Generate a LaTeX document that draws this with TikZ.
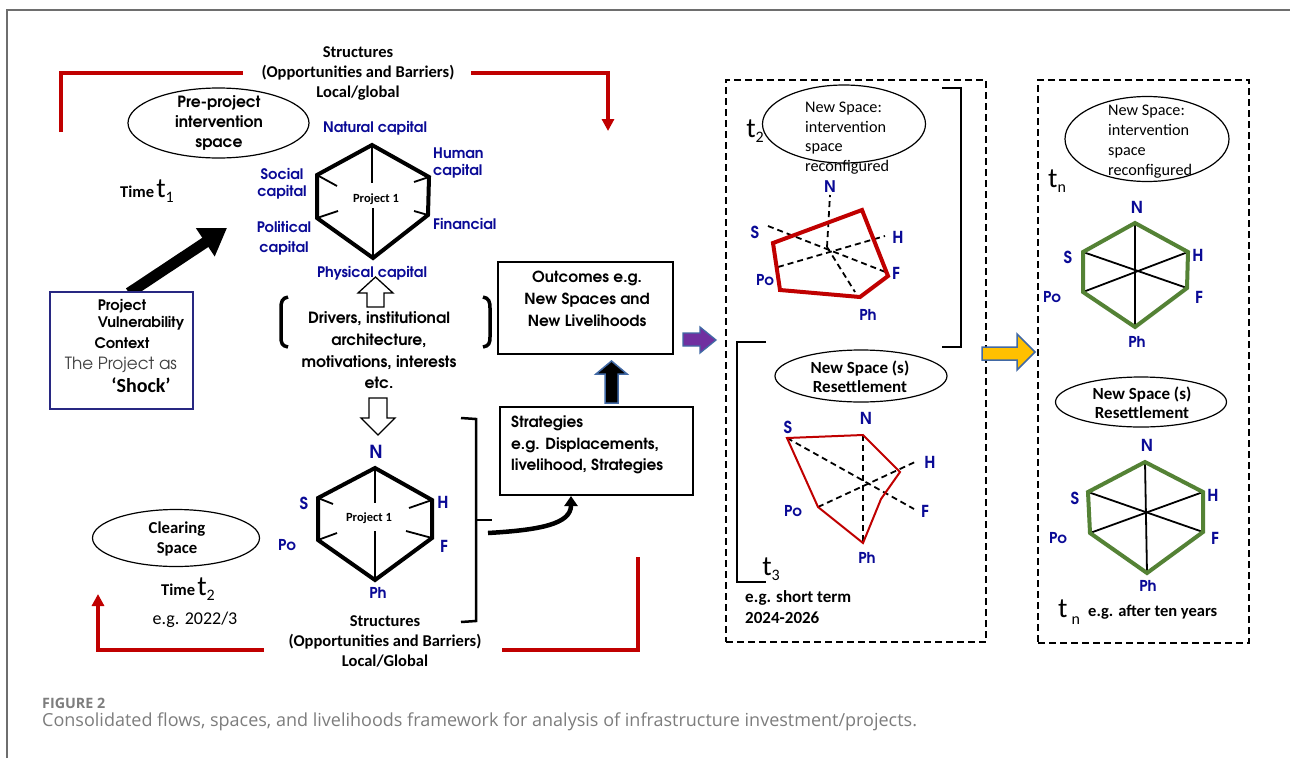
\documentclass[tikz,border=0pt]{standalone}
\usepackage{fontspec}
\setmainfont{Carlito}
\newfontfamily\cg{texgyreadventor}[Extension=.otf,UprightFont=*-regular,BoldFont=*-bold]
\newfontfamily\capfont{Open Sans}
\usetikzlibrary{arrows.meta,shapes.geometric,calc}
\definecolor{dred}{RGB}{192,0,0}
\definecolor{lblue}{RGB}{10,10,150}
\definecolor{grn}{RGB}{84,130,53}
\definecolor{frmgrey}{RGB}{110,110,110}
\definecolor{pblue}{RGB}{40,40,130}
\definecolor{sblue}{RGB}{65,105,165}
\definecolor{purp}{RGB}{112,48,160}
\definecolor{gold}{RGB}{255,192,0}
\definecolor{capgrey}{RGB}{125,125,125}
\newcommand\fs[2]{\fontsize{#1}{#2}\selectfont}
\newcommand\tsb[1]{{\fs{28}{28}t}\raisebox{-5pt}{\fs{16}{16}#1}}
\tikzset{
  lbl/.style={text=lblue, font=\cg\bfseries\fs{14.5}{17}, inner sep=0},
  txt/.style={inner sep=0, align=center},
  redl/.style={draw=dred, line width=4.5pt},
  hexl/.style={line width=4pt, line join=miter},
  spoke/.style={line width=1.8pt},
  dsh/.style={dash pattern=on 6pt off 4pt, line width=1.8pt},
  ell/.style={draw, ellipse, inner sep=0, line width=1.2pt},
  dbox/.style={draw, line width=2.5pt, dash pattern=on 7pt off 4pt, inner sep=0},
  sbox/.style={draw, line width=1.3pt, inner sep=0},
  big/.style={lbl, font=\cg\bfseries\fs{16.5}{18}},
  sml/.style={lbl, font=\cg\bfseries\fs{15}{17}},
}
\begin{document}
\begin{tikzpicture}[x=1pt,y=-1pt]
\useasboundingbox (0,0) rectangle (1290,758);
\fill[white] (0,0) rectangle (1290,758);
% frame
\draw[frmgrey, line width=1.2pt] (7,758) -- (7,10) -- (1290,10);

% ---------- top structures + red bracket
\node[txt, font=\bfseries\fs{16.5}{20}] (stt) at (358,73) {Structures\\(Opportunities and Barriers)\\Local/global};
\coordinate (rtl) at (61,132);
\coordinate (rtm) at (243,73);
\coordinate (rtr) at (471,73);
\coordinate (rte) at (608,131);
\draw[redl] (rtl) |- (rtm);
\draw[redl, -{Triangle[length=12pt,width=12pt]}] (rtr) -| (rte);

% pre-project ellipse
\node[ell, minimum width=181pt, minimum height=70pt] (pre) at (218.5,123) {};
\node[txt, font=\cg\bfseries\fs{15.5}{20}] (pret) at (219,123) {Pre-project\\intervention\\space};

\node[inner sep=0] (tim1) at (147,191) {{\bfseries\fs{16.5}{16}Time} \tsb{1}};

% hexagon 1
\draw[spoke] (372,145) -- (372,183);
\draw[spoke] (373,258) -- (373,208);
\draw[spoke] (317,175) -- (337,186);
\draw[spoke] (429,177) -- (414,182);
\draw[spoke] (317,218) -- (338,211);
\draw[spoke] (428,215) -- (414,211);
\draw[hexl] (372,145) -- (429,177) -- (428,215) -- (373,258) -- (317,218) -- (317,175) -- cycle;
\node[font=\bfseries\fs{12.5}{14}, inner sep=0] (p1a) at (376,199) {Project 1};
\node[lbl] (lnat) at (375,128) {Natural capital};
\node[lbl, anchor=west, align=left] (lhum) at (433,163) {Human\\capital};
\node[lbl, align=center] (lsoc) at (282,184) {Social\\capital};
\node[lbl, align=center, font=\cg\bfseries\fs{14.5}{20}] (lpol) at (284,238) {Political\\capital};
\node[lbl, anchor=west] (lfin) at (433,224) {Financial};
\node[lbl] (lphy) at (372,273) {Physical capital};

% project box + arrow
\coordinate (a1s) at (129,293);
\coordinate (a1e) at (227,228);
\draw[line width=11pt, -{Triangle[length=26pt,width=32pt]}] (a1s) -- (a1e);
\node[sbox, draw=pblue, fill=white, minimum width=143pt, minimum height=117pt] (pbox) at (121.5,350.5) {};
\node[font=\cg\bfseries\fs{14.5}{16}, inner sep=0] (pb1) at (122,306) {Project};
\node[font=\cg\bfseries\fs{14.5}{16}, inner sep=0] (pb2) at (141,323) {Vulnerability};
\node[font=\cg\bfseries\fs{14.5}{16}, inner sep=0] (pb3) at (122,343) {Context};
\node[font=\cg\fs{16.8}{18}, text=black!75, inner sep=0] (pb4) at (121,365) {The Project as};
\node[font=\bfseries\fs{20}{22}, inner sep=0] (pb5) at (141,385) {‘Shock’};

% drivers
\draw[line width=1.3pt, fill=white] (367,307) -- (367,293) -- (358,293) -- (375.5,277) -- (393,293) -- (384,293) -- (384,307) -- cycle;
\node[txt, font=\cg\bfseries\fs{15.5}{21.7}] (driv) at (379,350.5) {Drivers, institutional\\architecture,\\motivations, interests\\etc.};
\draw[line width=3.5pt] (288,297) .. controls (282,298) and (281,302) .. (281,308) -- (281,337) .. controls (281,343) and (282,346) .. (288,347);
\draw[line width=3.5pt] (483,297) .. controls (489,298) and (490,302) .. (490,308) -- (490,337) .. controls (490,343) and (489,346) .. (483,347);
\draw[line width=1.3pt, fill=white] (369,398) -- (387,398) -- (387,418) -- (395,418) -- (378,435) -- (361,418) -- (369,418) -- cycle;

% hexagon 2
\draw[spoke] (375,468) -- (375,503);
\draw[spoke] (375,580) -- (375,531);
\draw[spoke] (318,498) -- (333,504);
\draw[spoke] (432,500) -- (409,508);
\draw[spoke] (318,540) -- (337,533);
\draw[spoke] (432,538) -- (406,531);
\draw[hexl] (375,468) -- (432,500) -- (432,538) -- (375,580) -- (318,540) -- (318,498) -- cycle;
\node[font=\bfseries\fs{12.5}{14}, inner sep=0] (p1b) at (369,518) {Project 1};
\node[lbl, font=\cg\bfseries\fs{18}{18}] (n2) at (376,452) {N};
\node[big] (s2) at (304,503) {S};
\node[big] (h2) at (443,502) {H};
\node[sml] (po2) at (287,545) {Po};
\node[big] (f2) at (444,546) {F};
\node[sml] (ph2) at (378,593) {Ph};

% clearing space
\node[ell, minimum width=167pt, minimum height=57pt] (clr) at (176,538) {};
\node[txt, font=\bfseries\fs{16.7}{20}] (clrt) at (177,539) {Clearing\\Space};
\node[inner sep=0] (tim2) at (188,589) {{\bfseries\fs{16.5}{16}Time} \tsb{2}};
\node[font=\fs{18}{20}, inner sep=0] (eg1) at (195,620) {e.g. 2022/3};

% bottom structures + red bracket
\node[txt, font=\bfseries\fs{16.5}{20}] (stb) at (385,641) {Structures\\(Opportunities and Barriers)\\Local/Global};
\coordinate (rbl) at (264,650);
\coordinate (rble) at (98,594);
\coordinate (rbr) at (502,650);
\coordinate (rbre) at (638,557);
\draw[redl, -{Triangle[length=12pt,width=12pt]}] (rbl) -| (rble);
\draw[redl] (rbr) -| (rbre);

% big brace
\draw[line width=2.5pt] (461,418) -- (476,419) -- (476,621) -- (461,622);
\coordinate (brt) at (492,520);
\draw[line width=2.5pt] (476,520) -- (brt);

% outcomes / strategies
\node[sbox, minimum width=175pt, minimum height=92pt] (outc) at (585.5,308) {};
\node[txt, font=\cg\bfseries\fs{15.3}{22}] (outt) at (587,299) {Outcomes e.g.\\New Spaces and\\New Livelihoods};
\node[sbox, minimum width=193pt, minimum height=88pt] (strat) at (596.5,451) {};
\node[font=\cg\bfseries\fs{15.3}{21.5}, anchor=west, align=left, inner sep=0] (strt) at (511,445) {Strategies\\e.g. Displacements,\\livelihood, Strategies};
\draw[draw=sblue, line width=1.5pt, fill=black] (605,403) -- (605,374) -- (596,374) -- (611.5,361) -- (627,374) -- (618,374) -- (618,403) -- cycle;
\coordinate (cas) at (488,533);
\coordinate (cae) at (571,496);
\draw[line width=4.5pt, -{Triangle[length=10pt,width=13pt]}] (cas) .. controls (540,530) and (571,524) .. (cae);
\draw[draw=sblue, line width=1.3pt, fill=purp] (683,333) -- (700,333) -- (700,327) -- (716,340) -- (700,353) -- (700,346) -- (683,346) -- cycle;

% ---------- box 1
\node[dbox, minimum width=260pt, minimum height=562pt] (box1) at (856,361) {};
\node[ell, minimum width=163pt, minimum height=78pt] (e1) at (844,124) {};
\node[font=\fs{16.2}{19.7}, anchor=west, align=left, inner sep=0] (e1t) at (805,138) {New Space:\\intervention\\space\\reconfigured};
\node[inner sep=0] (t2b) at (755,131) {\tsb{2}};
\draw[line width=2.5pt] (942,88) -- (961,88) -- (961,347) -- (942,347);
\draw[dsh] (827,247) -- (830,195);
\draw[dsh] (768,226) -- (888,273);
\draw[dsh] (778,267) -- (885,236);
\draw[dsh] (827,247) -- (855,292);
\draw[dred, line width=4pt, line join=miter] (773,243) -- (862,210) -- (888,276) -- (860,297) -- (780,290) -- cycle;
\node[lbl, font=\cg\bfseries\fs{16}{18}] (n3) at (830,187) {N};
\node[big] (s3) at (755,232) {S};
\node[big] (h3) at (898,237) {H};
\node[sml] (po3) at (765,280) {Po};
\node[big] (f3) at (896,273) {F};
\node[sml] (ph3) at (868,315) {Ph};
\draw[line width=2.5pt] (766,342) -- (737,342) -- (737,582) -- (766,582);
\node[ell, minimum width=172pt, minimum height=52pt] (e2) at (861,376) {};
\node[txt, font=\bfseries\fs{17}{19}] (e2t) at (860,376.5) {New Space (s)\\Resettlement};
\draw[dsh] (787,438) -- (914,509);
\draw[dsh] (818,507) -- (915,462);
\draw[dsh] (863,435) -- (863,543);
\draw[dred, line width=2pt, line join=miter] (787,438) -- (863,435) -- (900,472) -- (881,499) -- (863,543) -- (818,507) -- cycle;
\node[big] (n4) at (866,418) {N};
\node[big] (s4) at (788,427) {S};
\node[big] (h4) at (930,462) {H};
\node[sml] (po4) at (793,511) {Po};
\node[big] (f4) at (925,511) {F};
\node[sml] (ph4) at (867,558) {Ph};
\node[inner sep=0] (t3b) at (771,569) {\tsb{3}};
\node[font=\bfseries\fs{17}{21}, anchor=west, align=left, inner sep=0] (egs) at (745,607) {e.g. short term\\2024-2026};

% yellow arrow
\draw[draw=sblue, line width=1.5pt, fill=gold] (982,347) -- (1017,347) -- (1017,334) -- (1035,352) -- (1017,370) -- (1017,360) -- (982,360) -- cycle;

% ---------- box 2
\node[dbox, minimum width=211pt, minimum height=563pt] (box2) at (1143.5,361.5) {};
\node[ell, minimum width=164pt, minimum height=85pt] (e3) at (1147,139) {};
\node[font=\fs{16.2}{20}, anchor=west, align=left, inner sep=0] (e3t) at (1108,142) {New Space:\\intervention\\space\\reconfigured};
\node[inner sep=0] (tnb) at (1057,181) {\tsb{n}};
\draw[spoke] (1135,223) -- (1135,327);
\draw[spoke] (1083,252) -- (1187,288);
\draw[spoke] (1188,252) -- (1083,292);
\draw[grn, hexl] (1135,223) -- (1188,252) -- (1187,288) -- (1135,327) -- (1083,292) -- (1083,252) -- cycle;
\node[big] (n5) at (1137,207) {N};
\node[big] (s5) at (1068,257) {S};
\node[big] (h5) at (1198,255) {H};
\node[sml] (po5) at (1052,297) {Po};
\node[big] (f5) at (1199,297) {F};
\node[sml] (ph5) at (1137,342) {Ph};
\node[ell, minimum width=171pt, minimum height=50pt] (e4) at (1141,402) {};
\node[txt, font=\bfseries\fs{17}{19}] (e4t) at (1142,402.5) {New Space (s)\\Resettlement};
\draw[spoke] (1145,462) -- (1147,573);
\draw[spoke] (1088,492) -- (1203,532);
\draw[spoke] (1203,492) -- (1090,533);
\draw[grn, hexl] (1145,462) -- (1203,492) -- (1203,532) -- (1147,573) -- (1090,533) -- (1088,492) -- cycle;
\node[big] (n6) at (1147,445) {N};
\node[big] (s6) at (1075,498) {S};
\node[big] (h6) at (1213,495) {H};
\node[sml] (po6) at (1058,538) {Po};
\node[big] (f6) at (1215,538) {F};
\node[sml] (ph6) at (1148,586) {Ph};
\node[inner sep=0] (tnc) at (1069,612) {{\fs{28}{28}t}\hspace{4pt}\raisebox{-7pt}{\fs{16}{16}n}};
\node[font=\bfseries\fs{16.5}{18}, anchor=west, inner sep=0] (egl) at (1088,612) {e.g. after ten years};

% caption
\node[font=\capfont\bfseries\fs{14.3}{15}, text=capgrey, anchor=west, inner sep=0] (cap1) at (42,703) {FIGURE 2};
\node[font=\capfont\fs{18}{20}, text=capgrey, anchor=west, inner sep=0] (cap2) at (42,722) {Consolidated flows, spaces, and livelihoods framework for analysis of infrastructure investment/projects.};
\end{tikzpicture}
\end{document}
